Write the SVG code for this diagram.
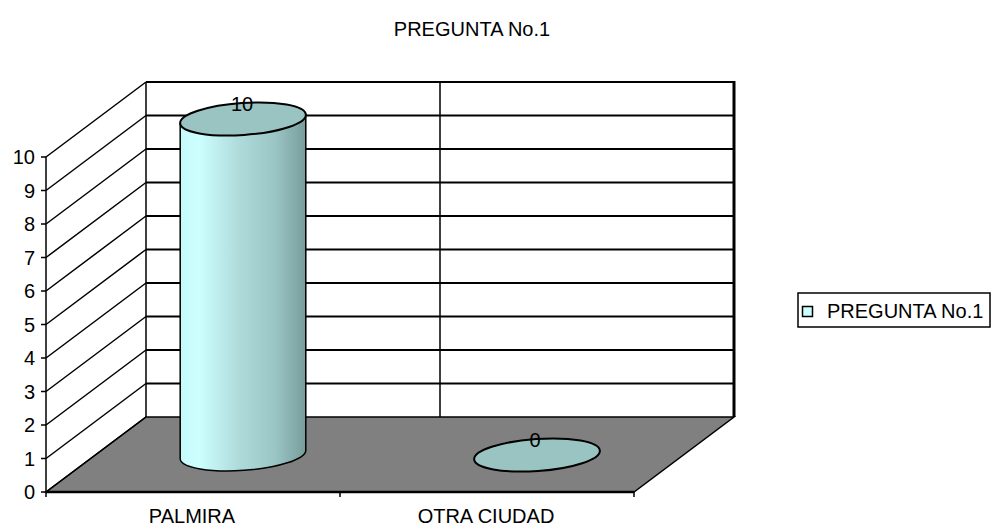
<svg xmlns="http://www.w3.org/2000/svg" width="992" height="529" viewBox="0 0 992 529">
<defs>
<style>
text{font-family:"Liberation Sans",Arial,sans-serif;font-size:20px;fill:#000}
.ln{stroke:#000;stroke-width:1.5;fill:none}
.gl{stroke:#000;stroke-width:2;fill:none}
.yl{text-anchor:end}
.cl{text-anchor:middle}
</style>
<linearGradient id="cyl" x1="0" y1="0" x2="1" y2="0">
<stop offset="0" stop-color="#c6fafa"/>
<stop offset="0.15" stop-color="#cdffff"/>
<stop offset="0.45" stop-color="#b0dcdc"/>
<stop offset="0.75" stop-color="#9cc6c6"/>
<stop offset="1" stop-color="#789c9c"/>
</linearGradient>
</defs>
<rect width="992" height="529" fill="#fff"/>
<text x="472" y="36" class="cl">PREGUNTA No.1</text>
<g id="walls">
<rect x="146" y="82" width="588" height="335" fill="#fff"/>
<polygon points="46,157 146,82 146,417 46,492" fill="#fff"/>
<polygon id="floor" points="146,417 734,417 634,492 46,492" fill="#808080" stroke="#000" stroke-width="1.5"/>
</g>
<g id="gridlines">
<path class="gl" d="M146,82H734M146,115.5H734M146,149H734M146,182.5H734M146,216H734M146,249.5H734M146,283H734M146,316.5H734M146,350H734M146,383.5H734"/>
<path class="ln" d="M46,157L146,82M46,190.5L146,115.5M46,224L146,149M46,257.5L146,182.5M46,291L146,216M46,324.5L146,249.5M46,358L146,283M46,391.5L146,316.5M46,425L146,350M46,458.5L146,383.5M46,492L146,417"/>
<path class="ln" d="M146,82V417M440,82V417"/>
<path stroke="#000" stroke-width="3" d="M734,81V417"/>
<path stroke="#000" stroke-width="2.5" d="M46,492H634"/>
<path class="ln" d="M46,157V497M340,492V497M634,492V497"/>
<path class="ln" d="M41,157H46M41,190.5H46M41,224H46M41,257.5H46M41,291H46M41,324.5H46M41,358H46M41,391.5H46M41,425H46M41,458.5H46M41,492H46"/>
</g>
<g id="yaxis">
<text x="35" y="164" class="yl">10</text>
<text x="35" y="197.5" class="yl">9</text>
<text x="35" y="231" class="yl">8</text>
<text x="35" y="264.5" class="yl">7</text>
<text x="35" y="298" class="yl">6</text>
<text x="35" y="331.5" class="yl">5</text>
<text x="35" y="365" class="yl">4</text>
<text x="35" y="398.5" class="yl">3</text>
<text x="35" y="432" class="yl">2</text>
<text x="35" y="465.5" class="yl">1</text>
<text x="35" y="499" class="yl">0</text>
</g>
<g id="palmira">
<path d="M180.2,123.4 L180.2,459.4 A63,16 -4 0 0 305.8,450.6 L305.8,114.6 Z" fill="url(#cyl)" stroke="#000" stroke-width="1.5"/>
<ellipse cx="243" cy="119" rx="63" ry="16" transform="rotate(-4 243 119)" fill="#99c4c2" stroke="#000" stroke-width="2"/>
<text x="242" y="111" class="cl">10</text>
</g>
<g id="otra">
<ellipse cx="537" cy="455" rx="63" ry="16" transform="rotate(-4 537 455)" fill="#99c4c2" stroke="#000" stroke-width="2"/>
<text x="535" y="447" class="cl">0</text>
</g>
<g id="categories">
<text x="192" y="523" class="cl">PALMIRA</text>
<text x="486" y="523" class="cl">OTRA CIUDAD</text>
</g>
<g id="legend">
<rect x="798" y="293" width="192" height="34" fill="#fff" stroke="#000" stroke-width="1.5"/>
<rect x="802.5" y="306.5" width="10" height="10" fill="#ccffff" stroke="#000" stroke-width="1.5"/>
<text x="827" y="318">PREGUNTA No.1</text>
</g>
</svg>
